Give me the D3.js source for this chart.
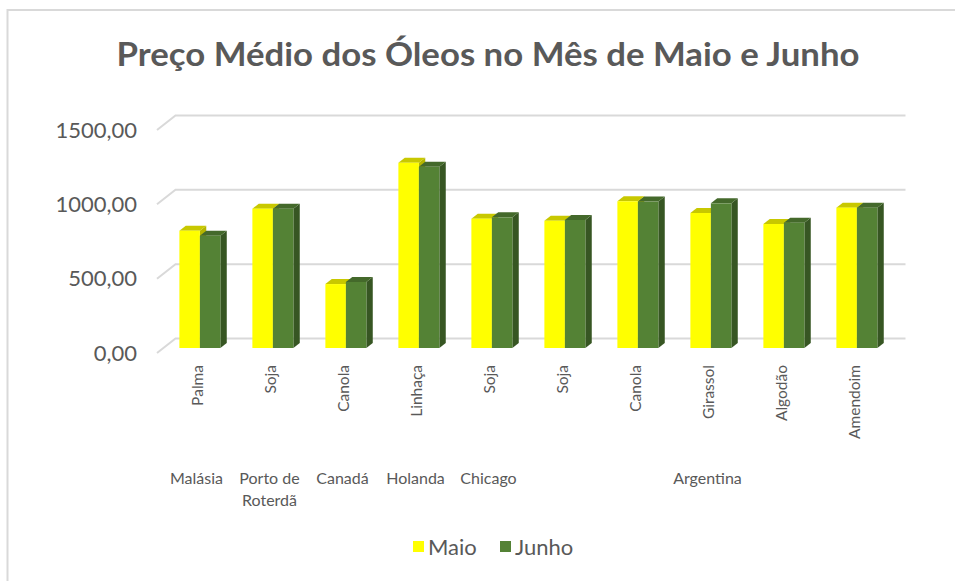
<!DOCTYPE html>
<html>
<head>
<meta charset="utf-8">
<script src="https://cdn.jsdelivr.net/npm/d3@7"></script>
<style>
  body { margin: 0; background: #fff; }
  svg text { font-family: Lato, "Open Sans", sans-serif; fill: #595959; }
</style>
</head>
<body>
<svg id="chart"></svg>
<script>
// dados
const categories = ["Palma", "Soja", "Canola", "Linhaça", "Soja", "Soja", "Canola", "Girassol", "Algodão", "Amendoim"];
const groupLabels = [["Malásia"], ["Porto de", "Roterdã"], ["Canadá"], ["Holanda"], ["Chicago"], ["Argentina"]];
const groupStart = [0, 1, 2, 3, 4, 5];
const groupEnd = [0, 1, 2, 3, 4, 9];
const seriesNames = ["Maio", "Junho"];
const maio = [789, 937, 430, 1246, 870, 856, 987, 908, 834, 944];
const junho = [755, 937, 444, 1219, 879, 861, 985, 973, 843, 944];
const yTicks = [0, 500, 1000, 1500];

const width = 955, height = 581;

// cores: frente, topo, lateral
const colors = {
  Maio: { front: "#FFFF00", top: "#C8C800", side: "#B5B500" },
  Junho: { front: "#548235", top: "#44692B", side: "#375623" }
};

// profundidade (projeção oblíqua)
const depth = { x: 18.5, y: -14.5 };
const barFrontD = 0.345, barBackD = 0.69;

const svg = d3.select("#chart")
  .attr("width", width)
  .attr("height", height);

// borda do gráfico
svg.append("rect")
  .attr("x", 7.5).attr("y", 10)
  .attr("width", width).attr("height", height)
  .attr("fill", "#fff")
  .attr("stroke", "#D9D9D9")
  .attr("stroke-width", 2);

// título
svg.append("text")
  .attr("x", 488).attr("y", 66)
  .attr("text-anchor", "middle")
  .attr("font-size", 32)
  .attr("font-weight", "bold")
  .attr("textLength", 743)
  .attr("lengthAdjust", "spacingAndGlyphs")
  .text("Preço Médio dos Óleos no Mês de Maio e Junho");

// escalas (plano frontal)
const x = d3.scaleBand()
  .domain(d3.range(categories.length))
  .range([157, 887])
  .paddingInner(0).paddingOuter(0);

const y = d3.scaleLinear()
  .domain([0, 1500])
  .range([353, 130]);

const pairWidth = 41;
const x1 = d3.scaleBand()
  .domain(seriesNames)
  .range([-pairWidth / 2, pairWidth / 2]);

// grade
const grid = svg.append("g");
yTicks.forEach(v => {
  const yf = y(v);
  grid.append("path")
    .attr("d", `M${x.range()[0]},${yf} L${x.range()[0] + depth.x},${yf + depth.y} L${x.range()[1] + depth.x},${yf + depth.y}`)
    .attr("fill", "none")
    .attr("stroke", "#D9D9D9")
    .attr("stroke-width", 2);
});

// rótulos do eixo y
svg.append("g").selectAll("text")
  .data(yTicks)
  .join("text")
  .attr("x", 137)
  .attr("y", d => y(d))
  .attr("dy", "0.35em")
  .attr("text-anchor", "end")
  .attr("font-size", 22)
  .text(d => d3.format(".2f")(d).replace(".", ","));

// barras 3D
const bars = svg.append("g");
const fx = barFrontD * depth.x, fy = barFrontD * depth.y;
const dx = (barBackD - barFrontD) * depth.x, dy = (barBackD - barFrontD) * depth.y;

categories.forEach((c, i) => {
  [["Maio", maio[i]], ["Junho", junho[i]]].forEach(([s, v]) => {
    const x0 = x(i) + x.bandwidth() / 2 + x1(s) + fx;
    const w = x1.bandwidth();
    const y0 = y(0) + fy, yt = y(v) + fy;
    const col = colors[s];
    // lateral
    bars.append("path")
      .attr("d", `M${x0 + w},${yt} L${x0 + w + dx},${yt + dy} L${x0 + w + dx},${y0 + dy} L${x0 + w},${y0} Z`)
      .attr("fill", col.side);
    // topo
    bars.append("path")
      .attr("d", `M${x0},${yt} L${x0 + dx},${yt + dy} L${x0 + w + dx},${yt + dy} L${x0 + w},${yt} Z`)
      .attr("fill", col.top);
    // frente
    bars.append("rect")
      .attr("x", x0).attr("y", yt)
      .attr("width", w).attr("height", y0 - yt)
      .attr("fill", col.front);
  });
});

// rótulos das categorias (rotacionados)
svg.append("g").selectAll("text")
  .data(categories)
  .join("text")
  .attr("transform", (d, i) => `translate(${x(i) + x.bandwidth() / 2 + 3},365) rotate(-90)`)
  .attr("text-anchor", "end")
  .attr("dominant-baseline", "central")
  .attr("font-size", 15.5)
  .text(d => d);

// rótulos dos grupos
const groups = svg.append("g");
groupLabels.forEach((lines, g) => {
  const cx = (x(groupStart[g]) + x(groupEnd[g]) + x.bandwidth()) / 2 + 3;
  const t = groups.append("text")
    .attr("text-anchor", "middle")
    .attr("font-size", 16);
  lines.forEach((ln, k) => {
    t.append("tspan").attr("x", cx).attr("y", 484 + k * 22).text(ln);
  });
});

// legenda
const legend = svg.append("g");
const legendX = [413, 500];
seriesNames.forEach((s, k) => {
  legend.append("rect")
    .attr("x", legendX[k]).attr("y", 541)
    .attr("width", 11).attr("height", 11)
    .attr("fill", colors[s].front);
  legend.append("text")
    .attr("x", legendX[k] + 15).attr("y", 547)
    .attr("dy", "0.35em")
    .attr("font-size", 22)
    .text(s);
});
</script>
</body>
</html>
